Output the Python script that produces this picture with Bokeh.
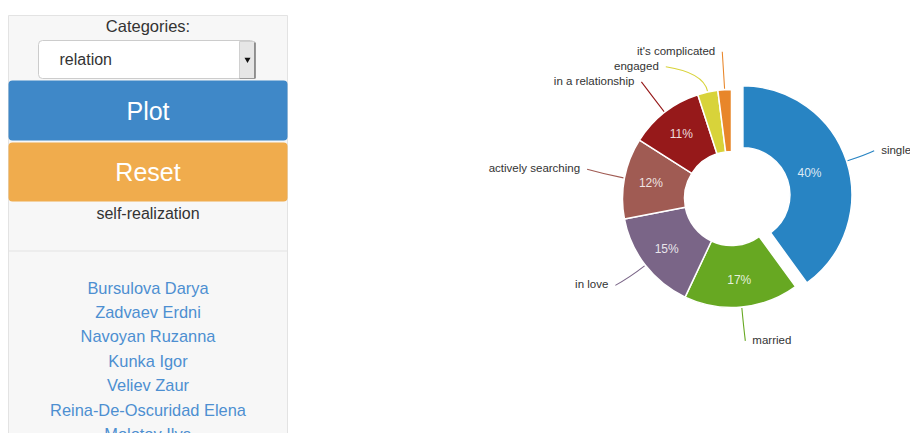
import math
from bokeh.plotting import figure
from bokeh.models import Range1d
from bokeh.core.properties import value
from bokeh.embed import file_html
from bokeh.resources import INLINE

# ---------------- data ----------------
categories = ["single", "married", "in love", "actively searching",
              "in a relationship", "engaged", "it's complicated"]
counts = [40, 17, 15, 12, 11, 3, 2]
select_title = "Categories:"
select_value = "relation"
button_labels = ["Plot", "Reset"]
current_category = "self-realization"
names = ["Bursulova Darya", "Zadvaev Erdni", "Navoyan Ruzanna", "Kunka Igor",
         "Veliev Zaur", "Reina-De-Oscuridad Elena", "Molotov Ilya"]

# ---------------- style ----------------
slice_colors = ["#2884c3", "#67a822", "#7a6587", "#a05b53",
                "#96191a", "#d8d33a", "#e8862a"]
FONT = value("Liberation Sans")
W, H = 910, 433


def Y(py):
    return H - py


p = figure(width=W, height=H, x_range=Range1d(0, W), y_range=Range1d(0, H),
           x_axis_location=None, y_axis_location=None, toolbar_location=None,
           output_backend="svg", min_border=0)
p.grid.visible = False
p.outline_line_color = None
p.background_fill_color = "white"
p.border_fill_color = "white"

# ---------------- sidebar ----------------
PL, PR, PT = 8, 287, 15
p.quad(left=[PL], right=[PR], top=[Y(PT)], bottom=[Y(H + 5)],
       fill_color="#f7f7f7", line_color="#e3e3e3", line_width=1)
p.text(x=[(PL + PR) / 2], y=[Y(25)], text=[select_title], text_font=FONT,
       text_font_size="16.5px", text_color="#333333", text_align="center",
       text_baseline="middle")
# select box
p.quad(left=[38], right=[254], top=[Y(40)], bottom=[Y(78)],
       fill_color="white", line_color="#cccccc", line_width=1, border_radius=4)
p.quad(left=[239], right=[254], top=[Y(41)], bottom=[Y(78)],
       fill_color="#e6e6e6", line_color="#d0d0d0", line_width=1)
p.segment(x0=[254.5], y0=[Y(42)], x1=[254.5], y1=[Y(78)], line_color="#777777", line_width=1.5)
p.segment(x0=[239], y0=[Y(78)], x1=[254.5], y1=[Y(78)], line_color="#999999", line_width=1)
p.scatter(x=[247], y=[Y(59)], marker="inverted_triangle", size=6,
          fill_color="#111111", line_color=None)
p.text(x=[59], y=[Y(59)], text=[select_value], text_font=FONT,
       text_font_size="16px", text_color="#333333", text_align="left",
       text_baseline="middle")
# buttons
btn_colors = ["#3f88c8", "#f0ac4d"]
btn_tops = [80, 142]
btn_bottoms = [140, 201]
p.quad(left=[PL, PL], right=[PR, PR], top=[Y(t) for t in btn_tops],
       bottom=[Y(b) for b in btn_bottoms], fill_color=btn_colors,
       line_color=None, border_radius=4)
p.text(x=[(PL + PR) / 2] * 2, y=[Y((t + b) / 2) for t, b in zip(btn_tops, btn_bottoms)],
       text=button_labels, text_font=FONT, text_font_size="25px",
       text_color="white", text_align="center", text_baseline="middle")
p.text(x=[(PL + PR) / 2], y=[Y(213)], text=[current_category], text_font=FONT,
       text_font_size="16px", text_color="#333333", text_align="center",
       text_baseline="middle")
p.segment(x0=[PL], y0=[Y(250.5)], x1=[PR], y1=[Y(250.5)], line_color="#e3e3e3", line_width=1)
p.text(x=[(PL + PR) / 2] * len(names), y=[Y(287 + 24.4 * i) for i in range(len(names))],
       text=names, text_font=FONT, text_font_size="16.4px", text_color="#4d8fd1",
       text_align="center", text_baseline="middle")

# ---------------- donut ----------------
CX, CYP = 731, 198
CY = Y(CYP)
R_OUT, R_IN = 109, 47
EXPLODE = 12
R_PCT = 82
LAB_CYP = 196          # label ring centre (pixels from top)
RX_LAB, RY_LAB = 147, 145
total = float(sum(counts))

starts, ends, mids = [], [], []
a = math.pi / 2
for v in counts:
    span = v / total * 2 * math.pi
    starts.append(a)
    ends.append(a - span)
    mids.append(a - span / 2)
    a -= span

offs = [EXPLODE if i == 0 else 0 for i in range(len(counts))]
wx = [CX + o * math.cos(m) for o, m in zip(offs, mids)]
wy = [CY + o * math.sin(m) for o, m in zip(offs, mids)]
p.annular_wedge(x=wx, y=wy, inner_radius=R_IN, outer_radius=R_OUT,
                start_angle=starts, end_angle=ends, direction="clock",
                fill_color=slice_colors, line_color="white", line_width=1.5)

# percentage labels
pct_x, pct_y, pct_t = [], [], []
for v, m in zip(counts, mids):
    if v / total >= 0.05:
        pct_x.append(CX + R_PCT * math.cos(m))
        pct_y.append(CY + R_PCT * math.sin(m))
        pct_t.append(f"{round(v / total * 100)}%")
p.text(x=pct_x, y=pct_y, text=pct_t, text_font=FONT, text_font_size="12px",
       text_color="white", text_alpha=0.85, text_align="center", text_baseline="middle")

# outside labels with vertical de-overlap
lab = []
for i, m in enumerate(mids):
    ex = 3 if offs[i] else 0
    lab.append([CX + (RX_LAB + ex) * math.cos(m), LAB_CYP - (RY_LAB + ex) * math.sin(m),
                math.cos(m) >= 0])
for side in (True, False):
    idx = sorted([i for i in range(len(lab)) if lab[i][2] == side], key=lambda i: lab[i][1])
    prev = None
    for i in idx:
        if prev is not None and lab[i][1] < lab[prev][1] + 15:
            lab[i][1] = lab[prev][1] + 15
            dy = (LAB_CYP - lab[i][1]) / RY_LAB
            dx = RX_LAB * math.sqrt(max(1 - dy ** 2, 0))
            lab[i][0] = CX + (dx if side else -dx)
        prev = i

x0s, y0s, x1s, y1s, cxs, cys = [], [], [], [], [], []
for i, m in enumerate(mids):
    rs = R_OUT + 1 + offs[i]
    rc = R_OUT + 20 + offs[i]
    x0s.append(CX + rs * math.cos(m)); y0s.append(CY + rs * math.sin(m))
    cxs.append(CX + rc * math.cos(m)); cys.append(CY + rc * math.sin(m))
    x1s.append(lab[i][0]); y1s.append(Y(lab[i][1]))
p.quadratic(x0=x0s, y0=y0s, x1=x1s, y1=y1s, cx=cxs, cy=cys,
            line_color=slice_colors, line_width=1.1)

for i, c in enumerate(categories):
    right = lab[i][2]
    p.text(x=[lab[i][0] + (7 if right else -7)], y=[Y(lab[i][1] - 1)], text=[c],
           text_font=FONT, text_font_size="11.5px", text_color="#333333",
           text_align="left" if right else "right", text_baseline="middle")

open("out.html", "w").write(file_html(p, INLINE, title="chart"))
